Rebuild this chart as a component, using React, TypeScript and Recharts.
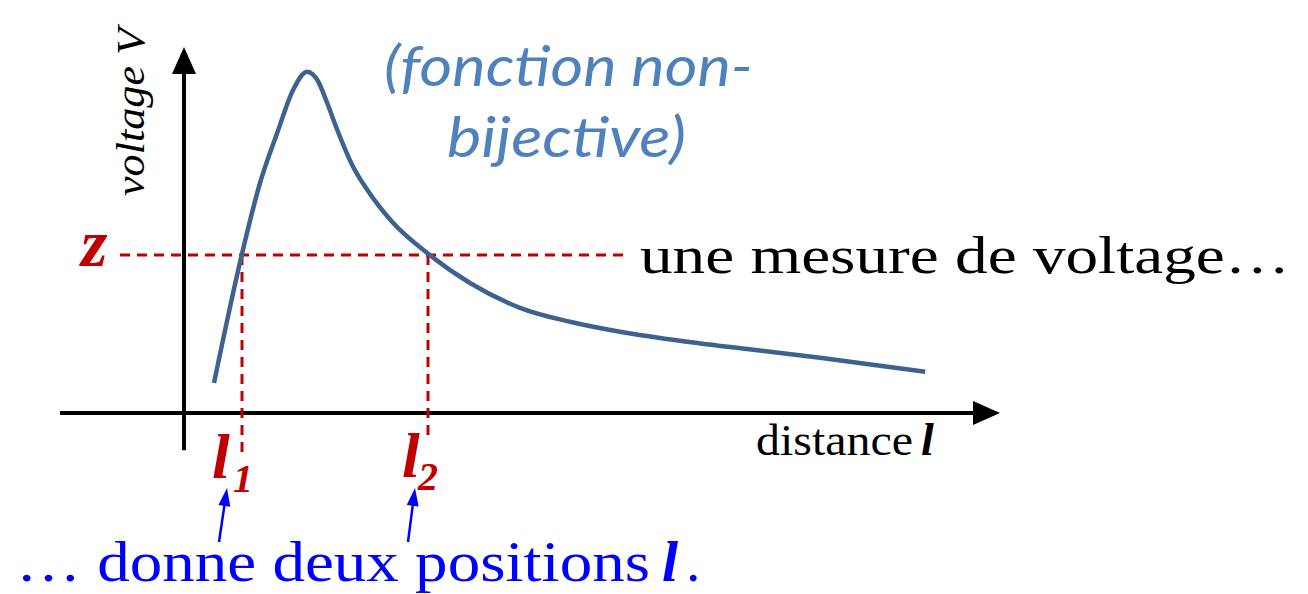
import React from "react";
import {
  ComposedChart,
  Line,
  XAxis,
  YAxis,
  ReferenceLine,
  ReferenceDot,
  Customized,
} from "recharts";

const WIDTH = 1308;
const HEIGHT = 594;

const DISTANCE = [
  0.75, 1.45, 1.9, 2.33, 2.73, 3.08, 3.2, 3.33, 3.58, 3.83, 4.23, 4.58, 5.23,
  6.08, 7.15, 8.4, 9.65, 10.9, 12.58, 14.23, 15.9, 18.53,
];
const VOLTAGE = [
  0.75, 3.98, 5.75, 7.0, 8.08, 8.53, 8.48, 8.33, 7.75, 7.08, 6.15, 5.58, 4.75,
  4.0, 3.25, 2.63, 2.28, 2.03, 1.78, 1.58, 1.38, 1.03,
];

const Z_LEVEL = 3.95;
const L1 = 1.45;
const L2 = 6.1;

// domaine des axes (cachés) : origine du schéma en (0, 0)
const X_DOMAIN: [number, number] = [-4.6, 28.1];
const Y_DOMAIN: [number, number] = [-4.525, 10.325];

// axes dessinés
const X_AXIS_START = -3.1;
const X_AXIS_TIP = 20.4;
const Y_AXIS_START = -0.93;
const Y_AXIS_TIP = 9.15;

// fin des traits pointillés
const Z_LINE = [-1.6, 11.15];
const L1_BOTTOM = -0.98;
const L2_BOTTOM = -0.68;

// flèches bleues : [queue, pointe]
const BLUE_ARROWS = [
  { from: [0.875, -3.225], to: [1.075, -1.875] },
  { from: [5.6, -3.225], to: [5.775, -1.875] },
];

const data = DISTANCE.map((d, i) => ({ d, v: VOLTAGE[i] }));

const RED = "#C00000";
const CURVE = "#3F6190";
const LIGHT_BLUE = "#4F81BD";
const BLUE = "#0000FF";
const SERIF = "'Liberation Serif', 'DejaVu Serif', serif";

// eslint-disable-next-line @typescript-eslint/no-explicit-any
function Head({ cx, cy, angle, fill, len, half }: any) {
  const pts = [
    [0, 0],
    [-half, len],
    [half, len],
  ]
    .map(([x, y]) => `${x},${y}`)
    .join(" ");
  return (
    <polygon
      points={pts}
      fill={fill}
      transform={`translate(${cx},${cy}) rotate(${angle})`}
    />
  );
}

function Annotations() {
  return (
    <g>
      <text
        x={384}
        y={86}
        fill={LIGHT_BLUE}
        fontFamily="Lato, 'Open Sans', sans-serif"
        fontStyle="italic"
        fontSize={56}
        textLength={369}
        lengthAdjust="spacingAndGlyphs"
      >
        (fonction non-
      </text>
      <text
        x={447}
        y={157}
        fill={LIGHT_BLUE}
        fontFamily="Lato, 'Open Sans', sans-serif"
        fontStyle="italic"
        fontSize={56}
        textLength={239}
        lengthAdjust="spacingAndGlyphs"
      >
        bijective)
      </text>
      <text
        x={144}
        y={196}
        transform="rotate(-90 144 196)"
        fill="#000"
        fontFamily={SERIF}
        fontStyle="italic"
        fontSize={40}
        textLength={168}
        lengthAdjust="spacingAndGlyphs"
      >
        voltage V
      </text>
      <text x={81} y={266} fill={RED} fontFamily={SERIF} fontStyle="italic" fontWeight="bold" fontSize={68}>
        z
      </text>
      <text
        x={640}
        y={273}
        fill="#000"
        fontFamily={SERIF}
        fontSize={53}
        textLength={650}
        lengthAdjust="spacingAndGlyphs"
      >
        une mesure de voltage…
      </text>
      <text
        x={756}
        y={455}
        fill="#000"
        fontFamily={SERIF}
        fontSize={44}
        textLength={157}
        lengthAdjust="spacingAndGlyphs"
      >
        distance
      </text>
      <text x={921} y={455} fill="#000" fontFamily={SERIF} fontStyle="italic" fontWeight="bold" fontSize={46}>
        l
      </text>
      <text x={212} y={478} fill={RED} fontFamily={SERIF} fontStyle="italic" fontWeight="bold" fontSize={64}>
        l
      </text>
      <text x={233} y={492} fill={RED} fontFamily={SERIF} fontStyle="italic" fontWeight="bold" fontSize={40}>
        1
      </text>
      <text x={402} y={477} fill={RED} fontFamily={SERIF} fontStyle="italic" fontWeight="bold" fontSize={64}>
        l
      </text>
      <text x={418} y={490} fill={RED} fontFamily={SERIF} fontStyle="italic" fontWeight="bold" fontSize={40}>
        2
      </text>
      <text
        x={16}
        y={581}
        fill={BLUE}
        fontFamily={SERIF}
        fontSize={58}
        textLength={634}
        lengthAdjust="spacingAndGlyphs"
      >
        … donne deux positions
      </text>
      <text x={662} y={581} fill={BLUE} fontFamily={SERIF} fontStyle="italic" fontWeight="bold" fontSize={58}>
        l
      </text>
      <text x={686} y={581} fill={BLUE} fontFamily={SERIF} fontSize={58}>
        .
      </text>
    </g>
  );
}

export default function App() {
  return (
    <div style={{ position: "absolute", left: 0, top: 0, background: "#fff" }}>
      <ComposedChart
        width={WIDTH}
        height={HEIGHT}
        data={data}
        margin={{ top: 0, right: 0, bottom: 0, left: 0 }}
      >
        <XAxis type="number" dataKey="d" domain={X_DOMAIN} allowDataOverflow hide />
        <YAxis type="number" domain={Y_DOMAIN} allowDataOverflow hide />

        {/* axes */}
        <ReferenceLine
          segment={[
            { x: X_AXIS_START, y: 0 },
            { x: X_AXIS_TIP - 0.5, y: 0 },
          ]}
          stroke="#000"
          strokeWidth={4}
        />
        <ReferenceLine
          segment={[
            { x: 0, y: Y_AXIS_START },
            { x: 0, y: Y_AXIS_TIP - 0.5 },
          ]}
          stroke="#000"
          strokeWidth={4}
        />
        <ReferenceDot
          x={X_AXIS_TIP}
          y={0}
          shape={(p: any) => <Head {...p} angle={90} fill="#000" len={27} half={12} />}
        />
        <ReferenceDot
          x={0}
          y={Y_AXIS_TIP}
          shape={(p: any) => <Head {...p} angle={0} fill="#000" len={27} half={12} />}
        />

        {/* niveau z et positions l1, l2 */}
        <ReferenceLine
          segment={[
            { x: Z_LINE[0], y: Z_LEVEL },
            { x: Z_LINE[1], y: Z_LEVEL },
          ]}
          stroke={RED}
          strokeWidth={3}
          strokeDasharray="10 7"
        />
        <ReferenceLine
          segment={[
            { x: L1, y: Z_LEVEL },
            { x: L1, y: L1_BOTTOM },
          ]}
          stroke={RED}
          strokeWidth={3}
          strokeDasharray="10 7"
        />
        <ReferenceLine
          segment={[
            { x: L2, y: Z_LEVEL },
            { x: L2, y: L2_BOTTOM },
          ]}
          stroke={RED}
          strokeWidth={3}
          strokeDasharray="10 7"
        />

        <Line
          type="monotone"
          dataKey="v"
          stroke={CURVE}
          strokeWidth={4.5}
          dot={false}
          activeDot={false}
          isAnimationActive={false}
        />

        {BLUE_ARROWS.map((a, i) => {
          const dx = a.to[0] - a.from[0];
          const dy = a.to[1] - a.from[1];
          const angle = (Math.atan2(dx, dy) * 180) / Math.PI;
          return (
            <React.Fragment key={i}>
              <ReferenceLine
                segment={[
                  { x: a.from[0], y: a.from[1] },
                  { x: a.to[0] - dx * 0.25, y: a.to[1] - dy * 0.25 },
                ]}
                stroke={BLUE}
                strokeWidth={2.5}
              />
              <ReferenceDot
                x={a.to[0]}
                y={a.to[1]}
                shape={(p: any) => <Head {...p} angle={angle} fill={BLUE} len={18} half={6} />}
              />
            </React.Fragment>
          );
        })}

        <Customized component={Annotations} />
      </ComposedChart>
    </div>
  );
}
